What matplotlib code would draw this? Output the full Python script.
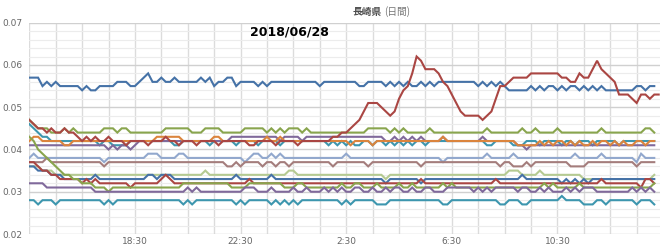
#!/usr/bin/env python3
# -*- coding: utf-8 -*-
import numpy as np
import matplotlib.pyplot as plt
from matplotlib.ticker import MultipleLocator

# values in thousandths, one point every 10 minutes starting 14:30
blue_1 = [57,57,57,55,56,55,56,55,55,55,55,55,
          54,55,54,54,55,55,55,55,56,56,56,55,
          55,56,57,58,56,56,57,56,56,57,56,56,
          56,56,56,57,56,57,55,56,56,57,57,55,
          56,56,56,56,55,56,55,56,56,56,56,56,
          56,56,56,56,56,56,55,56,56,56,56,56,
          56,56,56,55,55,56,56,56,56,55,56,55,
          56,55,56,55,55,56,55,56,55,56,56,56,
          56,56,56,56,56,56,55,56,55,56,55,56,
          55,54,54,54,54,54,55,54,55,54,55,55,
          54,55,54,55,55,54,55,54,55,54,55,54,
          54,54,54,54,54,54,55,55,54,55,55]
red_1 = [47,46,45,45,44,45,44,44,45,44,44,43,
         42,43,42,43,42,42,43,42,42,42,41,42,
         42,42,42,41,42,42,42,43,42,42,41,42,
         42,42,41,42,42,42,42,41,42,42,42,42,
         42,42,41,41,42,42,42,42,41,42,42,42,
         42,41,42,42,42,42,42,42,42,43,43,44,
         44,45,46,47,49,51,51,51,50,49,48,49,
         52,54,55,58,62,61,59,59,59,58,56,55,
         53,51,49,48,48,48,48,47,48,49,52,55,
         55,56,57,57,57,57,58,58,58,58,58,58,
         58,57,57,56,56,58,57,57,59,61,59,58,
         57,56,53,53,53,52,51,53,53,52,53,53]
green_1 = [47,46,45,45,45,44,44,44,45,44,45,44,
           44,44,44,44,44,45,45,45,44,45,45,44,
           44,44,44,44,44,44,44,45,45,45,45,45,
           45,44,44,44,45,45,45,45,44,44,44,44,
           44,45,45,45,45,45,44,45,44,45,44,45,
           45,45,44,45,44,44,44,44,44,44,44,44,
           44,44,44,44,44,45,45,45,45,45,44,45,
           44,45,44,44,44,44,44,45,44,44,44,44,
           44,44,44,44,44,44,44,44,45,44,44,44,
           44,44,44,44,45,44,44,45,44,44,44,44,
           45,44,44,44,44,44,44,44,44,44,45,44,
           44,44,44,44,44,44,44,44,45,45,44]
teal_1 = [46,45,44,43,43,42,42,42,42,42,42,42,
          42,42,42,42,41,42,42,41,41,41,41,42,
          42,42,42,42,42,42,42,42,42,41,41,42,
          42,42,42,42,42,41,42,42,42,42,42,41,
          42,42,42,42,41,42,42,42,42,41,42,42,
          42,42,42,42,42,42,42,42,41,42,41,42,
          41,42,41,41,42,42,41,42,42,41,42,41,
          42,41,42,41,42,42,41,42,42,42,42,42,
          42,42,42,42,42,42,42,42,41,41,42,42,
          42,42,41,41,41,42,42,42,41,42,42,42,
          42,41,42,42,41,42,42,42,41,42,42,42,
          42,42,41,42,42,42,42,42,42,42,42]
orange_1 = [42,43,43,42,42,42,42,42,41,41,42,42,
            42,42,42,42,42,42,42,42,42,42,42,42,
            42,42,42,42,42,43,43,43,43,43,43,42,
            42,42,42,42,42,42,43,43,42,42,42,42,
            42,42,42,42,42,42,43,42,42,43,42,42,
            42,42,42,42,42,42,42,42,42,42,42,42,
            42,41,42,42,42,42,41,42,42,42,42,42,
            42,42,42,42,42,42,42,42,42,42,43,42,
            42,42,42,42,42,42,42,42,42,42,42,42,
            42,42,42,41,41,41,41,41,42,41,42,41,
            42,42,41,42,41,42,41,41,42,41,42,42,
            41,42,41,42,41,41,42,42,41,42,42]
purple_1 = [41,41,41,41,41,41,41,41,41,41,41,41,
            41,41,41,41,41,41,40,41,40,41,41,40,
            41,42,42,42,42,42,42,42,42,42,42,42,
            42,42,42,42,42,42,42,42,42,42,43,43,
            43,43,43,43,43,43,43,43,43,42,43,43,
            43,43,42,43,43,43,43,43,43,43,43,43,
            43,43,43,43,43,43,43,43,43,42,42,43,
            42,43,42,43,42,43,42,42,42,42,43,42,
            42,42,42,42,42,42,42,43,42,42,42,42,
            42,42,42,41,41,40,41,41,41,41,41,41,
            41,41,41,41,41,41,41,41,41,41,41,41,
            41,41,41,41,41,41,41,41,41,41,41]
lightblue_1 = [38,39,38,38,38,38,38,38,38,38,38,38,
               38,38,38,38,38,37,38,38,38,38,38,38,
               38,38,38,39,39,39,38,38,38,38,39,39,
               38,38,38,38,38,38,38,38,38,38,38,38,
               38,37,38,39,39,38,38,39,38,39,38,38,
               38,38,38,38,38,38,38,38,38,38,38,38,
               39,38,38,38,38,38,38,38,38,38,38,38,
               38,38,38,38,38,38,38,38,38,38,37,38,
               38,38,38,38,38,38,38,38,39,38,38,38,
               38,38,39,38,38,38,38,38,38,38,38,38,
               38,38,38,38,39,38,38,38,38,38,39,38,
               38,38,38,38,38,38,37,39,38,38,38]
mauve_1 = [37,37,37,37,38,37,37,37,37,37,37,37,
           37,37,37,37,37,36,37,37,37,37,37,37,
           37,37,37,37,37,37,37,37,37,37,37,37,
           37,37,37,37,37,37,37,37,37,36,36,37,
           36,37,37,37,37,36,37,37,36,37,37,36,
           37,37,37,37,37,37,37,37,37,36,37,37,
           37,37,37,37,37,36,37,37,37,37,37,37,
           37,37,37,37,37,36,37,37,37,37,37,37,
           37,37,37,37,37,37,37,37,37,37,37,36,
           37,37,36,36,36,37,36,37,37,37,37,37,
           37,37,37,36,36,36,36,37,37,37,37,37,
           37,37,37,37,37,37,36,37,37,37,37]
lightgreen_1 = [36,36,36,35,35,35,34,34,34,34,34,34,
                34,34,34,34,34,34,34,34,34,34,34,34,
                34,34,34,34,34,34,34,34,34,34,34,34,
                34,34,34,34,35,34,34,34,34,34,34,34,
                34,34,34,34,34,34,34,34,34,34,34,35,
                35,34,34,34,34,34,34,34,34,34,34,34,
                34,34,34,34,34,34,34,34,34,33,34,34,
                34,34,34,34,34,34,34,34,34,34,34,34,
                34,34,34,34,34,34,34,34,34,34,34,34,
                34,35,35,35,34,34,34,34,35,34,34,34,
                34,34,34,34,34,34,33,33,33,33,33,33,
                33,33,33,33,33,33,33,33,33,33,34]
blue_2 = [36,36,35,35,35,34,34,34,33,33,33,33,
          33,33,33,34,33,33,33,33,33,33,33,33,
          33,33,33,34,34,33,34,34,34,33,33,33,
          33,33,33,33,33,33,33,33,33,33,33,34,
          33,33,33,33,33,33,33,34,33,33,33,33,
          33,33,33,33,33,33,33,33,33,33,33,33,
          33,33,33,33,33,33,33,33,33,32,33,33,
          33,33,33,33,33,32,33,33,33,33,33,33,
          33,33,33,33,33,33,33,33,33,33,33,33,
          33,33,33,33,34,33,33,33,33,33,33,33,
          33,32,33,32,33,32,33,32,33,33,33,33,
          33,33,33,33,33,33,33,33,33,33,33]
red_2 = [37,37,36,35,35,34,34,33,33,33,33,33,
         32,33,32,33,32,32,32,32,32,32,32,31,
         32,32,32,32,32,32,33,34,33,32,32,32,
         32,32,32,32,32,32,32,32,32,32,32,32,
         32,32,33,32,32,32,32,32,32,32,32,32,
         32,32,32,32,32,32,32,32,32,32,32,32,
         32,32,32,32,32,32,32,32,32,32,32,32,
         32,32,32,32,32,33,32,32,32,32,32,32,
         32,32,32,32,32,32,32,32,32,32,33,32,
         32,32,32,32,32,32,32,32,32,32,32,32,
         32,32,32,32,32,32,32,32,32,32,33,32,
         32,32,32,32,32,32,32,31,33,33,32]
green_2 = [43,42,40,39,38,37,36,35,34,34,33,33,
           32,32,32,31,31,31,30,31,31,31,31,31,
           31,31,31,31,31,31,31,31,31,31,31,32,
           32,32,32,32,32,32,32,32,32,32,31,31,
           31,31,32,32,32,32,32,32,32,32,31,31,
           31,32,32,31,31,31,31,31,31,31,31,32,
           31,31,32,32,31,31,31,32,31,31,31,31,
           32,31,31,32,31,31,31,31,31,31,32,31,
           32,31,31,31,31,31,31,31,31,31,31,31,
           31,31,31,31,31,31,31,31,31,32,31,32,
           31,31,31,31,31,32,31,31,31,31,31,31,
           31,31,31,31,31,31,31,31,31,31,32]
purple_2 = [32,32,32,32,31,31,31,31,31,31,31,31,
            31,31,31,30,30,30,30,30,30,30,30,30,
            30,30,30,30,30,30,30,30,30,30,30,30,
            31,30,31,30,30,30,30,30,30,30,30,30,
            30,31,31,31,30,30,30,31,30,30,30,30,
            31,30,30,31,30,30,30,31,30,31,30,31,
            30,30,31,31,30,30,31,30,30,31,30,31,
            31,30,30,31,30,30,31,31,30,30,30,31,
            31,31,31,31,31,30,31,30,31,30,31,31,
            31,31,31,30,31,31,30,30,31,30,31,30,
            30,30,31,30,31,30,31,31,31,30,30,30,
            30,30,30,30,30,31,30,31,30,31,30]
teal_2 = [28,28,27,28,28,28,27,28,28,28,28,28,
          28,28,28,28,28,27,28,27,28,28,28,28,
          28,28,28,28,28,28,28,28,28,28,28,27,
          28,27,28,28,28,28,28,28,28,28,28,27,
          28,27,28,28,28,28,28,27,28,27,28,27,
          28,27,28,28,28,28,28,28,28,28,28,27,
          28,27,28,28,28,28,28,27,27,27,28,28,
          28,28,28,28,28,28,28,28,28,28,27,27,
          28,28,28,28,28,28,28,28,28,28,28,27,
          27,28,28,28,27,27,28,28,28,28,28,28,
          28,29,28,28,28,28,27,27,27,28,28,27,
          28,28,28,28,28,28,27,28,28,28,27]

series = [
    (blue_1, '#4572A7'), (green_1, '#89A54E'), (teal_1, '#3D96AE'),
    (purple_1, '#80699B'), (orange_1, '#DB843D'), (lightblue_1, '#92A8CD'),
    (mauve_1, '#A47D7C'), (lightgreen_1, '#B5CA92'), (blue_2, '#4572A7'),
    (red_2, '#AA4643'), (green_2, '#89A54E'), (purple_2, '#80699B'),
    (teal_2, '#3D96AE'), (red_1, '#AA4643'),
]

tick_pos = [24, 48, 72, 96, 120]
tick_labels = ['18:30', '22:30', '2:30', '6:30', '10:30']

fig = plt.figure(figsize=(6.6, 2.48), dpi=100)
ax = fig.add_axes([29.3/660, 14/248, 1 - 29.3/660, (234 - 22.7)/248])

for vals, col in series:
    y = np.array(vals) / 1000.0
    ax.plot(np.arange(len(y)), y, color=col, lw=1.5, solid_joinstyle='miter', zorder=3)

ax.set_xlim(0, 143.3)
ax.set_ylim(0.02, 0.07)
ax.yaxis.set_major_locator(MultipleLocator(0.01))
ax.yaxis.set_minor_locator(MultipleLocator(0.002))
ax.set_xticks(tick_pos)
ax.set_xticklabels(tick_labels)
ax.set_xticks(np.arange(0, 143, 6), minor=True)

ax.grid(which='major', axis='y', color='#d0d0d0', lw=1.0, zorder=0)
ax.grid(which='minor', axis='y', color='#ececec', lw=0.8, zorder=0)
ax.grid(which='minor', axis='x', color='#dcdcdc', lw=1.0, zorder=0)
ax.grid(which='major', axis='x', color='#dcdcdc', lw=1.0, zorder=0)

for s in ax.spines.values():
    s.set_visible(False)
ax.tick_params(axis='both', which='both', length=0, labelsize=6.5, labelcolor='#666666')
ax.tick_params(axis='x', pad=2)
ax.tick_params(axis='y', pad=5)
ax.set_yticklabels(['%.2f' % v for v in ax.get_yticks()])

fig.text(353/660, 1 - 12/248, '長崎県', family=['Noto Sans CJK JP', 'DejaVu Sans'],
         fontsize=7, fontweight='bold', color='#4d4d4d', va='center', ha='left')
fig.text(384/660, 1 - 12/248, '(日間)', family=['Noto Sans CJK JP', 'DejaVu Sans'],
         fontsize=7, color='#777777', va='center', ha='left')
fig.text(250/660, 1 - 32/248, '2018/06/28', fontsize=9, fontweight='bold',
         color='black', va='center', ha='left')

plt.savefig('out.png', dpi=100)
